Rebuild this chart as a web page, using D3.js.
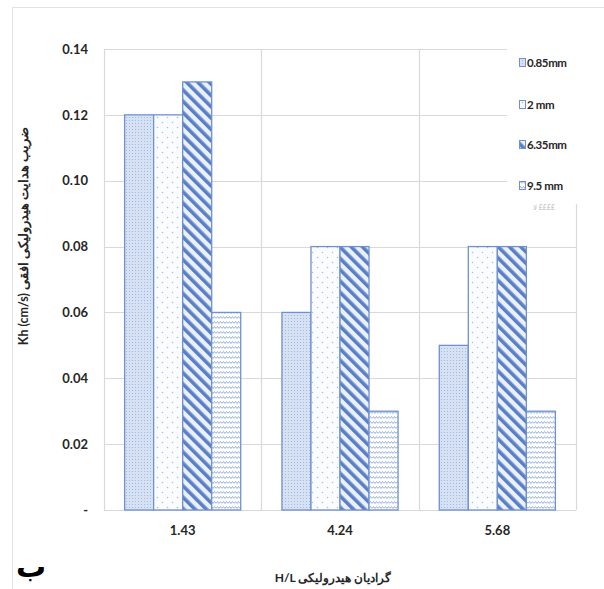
<!DOCTYPE html>
<html><head><meta charset="utf-8">
<script src="https://cdn.jsdelivr.net/npm/d3@7"></script>
<style>
html,body{margin:0;padding:0;background:#fff;}
svg{display:block;font-family:Lato,"Open Sans",sans-serif;}
</style></head>
<body><svg id="c" width="604" height="589"></svg>
<script>
const categories = ["1.43", "4.24", "5.68"];
const seriesNames = ["0.85mm", "2 mm", "6.35mm", "9.5 mm"];
const s085 = [0.12, 0.06, 0.05];
const s2 = [0.12, 0.08, 0.08];
const s635 = [0.13, 0.08, 0.08];
const s95 = [0.06, 0.03, 0.03];
const yTicks = [0, 0.02, 0.04, 0.06, 0.08, 0.10, 0.12, 0.14];
const yTickLabels = ["-", "0.02", "0.04", "0.06", "0.08", "0.10", "0.12", "0.14"];
const yTitle = "Kh (cm/s) ضریب هدایت هیدرولیکی افقی";
const xTitle = "H/L گرادیان هیدرولیکی";

const seriesVals = [s085, s2, s635, s95];
const svg = d3.select("#c");
const X0 = 104, X1 = 576, Y0 = 49, Y1 = 510;

const defs = svg.append("defs");
const p1 = defs.append("pattern").attr("id","p0").attr("patternUnits","userSpaceOnUse").attr("width",3).attr("height",3);
p1.append("rect").attr("width",3).attr("height",3).attr("fill","#d6e2f4");
p1.append("rect").attr("width",1).attr("height",1).attr("fill","#a3b9e0");
const p2 = defs.append("pattern").attr("id","p1").attr("patternUnits","userSpaceOnUse").attr("width",10).attr("height",10);
p2.append("rect").attr("width",10).attr("height",10).attr("fill","#fbfcff");
p2.append("circle").attr("cx",2.5).attr("cy",2.5).attr("r",0.8).attr("fill","#a9bee4");
p2.append("circle").attr("cx",7.5).attr("cy",7.5).attr("r",0.8).attr("fill","#a9bee4");
const p3 = defs.append("pattern").attr("id","p2").attr("patternUnits","userSpaceOnUse").attr("width",8).attr("height",8).attr("patternTransform","rotate(-45)");
p3.append("rect").attr("width",8).attr("height",8).attr("fill","#eaf1fb");
p3.append("rect").attr("width",3.6).attr("height",8).attr("fill","#5a7fc6");
const p4 = defs.append("pattern").attr("id","p3").attr("patternUnits","userSpaceOnUse").attr("width",6).attr("height",5);
p4.append("rect").attr("width",6).attr("height",5).attr("fill","#ffffff");
p4.append("path").attr("d","M0,3.5 L1.5,1.5 L3,3.5 L4.5,1.5 L6,3.5").attr("fill","none").attr("stroke","#98b1de").attr("stroke-width",1);

// outer frame
svg.append("line").attr("x1",12.5).attr("x2",12.5).attr("y1",7).attr("y2",589).attr("stroke","#e2e2e2");
svg.append("line").attr("x1",12).attr("x2",604).attr("y1",7.5).attr("y2",7.5).attr("stroke","#e2e2e2");

const x = d3.scaleBand().domain(categories).range([X0, X1]).padding(0);
const xs = d3.scaleBand().domain(d3.range(4)).range([0, x.bandwidth()]).paddingInner(0).paddingOuter(0.71);
const y = d3.scaleLinear().domain([0, 0.14]).range([Y1, Y0]);

const grid = svg.append("g");
grid.selectAll("line.h").data(yTicks).join("line").attr("class","h")
  .attr("x1",X0).attr("x2",X1).attr("y1",d=>Math.round(y(d))+0.5).attr("y2",d=>Math.round(y(d))+0.5)
  .attr("stroke","#d9d9d9").attr("stroke-width",1.2);
const vb = categories.map(c=>x(c)).concat([X1]);
grid.selectAll("line.v").data(vb).join("line").attr("class","v")
  .attr("x1",d=>Math.round(d)+0.5).attr("x2",d=>Math.round(d)+0.5).attr("y1",Y0).attr("y2",Y1)
  .attr("stroke","#d9d9d9").attr("stroke-width",1.2);

const data = [];
categories.forEach((c,i)=>seriesVals.forEach((s,j)=>data.push({c, j, v:s[i]})));
svg.append("g").selectAll("rect").data(data).join("rect")
  .attr("x",d=>x(d.c)+xs(d.j)).attr("width",xs.bandwidth())
  .attr("y",d=>y(d.v)).attr("height",d=>y(0)-y(d.v))
  .attr("fill",d=>`url(#p${d.j})`).attr("stroke","#6f91cf").attr("stroke-width",1.3);

const ya = svg.append("g").attr("transform",`translate(${X0},0)`)
  .call(d3.axisLeft(y).tickValues(yTicks).tickFormat((d,i)=>yTickLabels[i]).tickSize(0).tickPadding(16));
ya.select(".domain").remove();
ya.selectAll("text").attr("font-family","Lato, sans-serif").attr("font-size",13).attr("font-weight","bold").attr("fill","#262626");

const xa = svg.append("g").attr("transform",`translate(0,${Y1})`)
  .call(d3.axisBottom(x).tickSize(0).tickPadding(16));
xa.select(".domain").remove();
xa.selectAll("text").attr("font-family","Lato, sans-serif").attr("font-size",13).attr("font-weight","bold").attr("fill","#262626");

const lg = svg.append("g");
lg.append("rect").attr("x",507).attr("y",40).attr("width",97).attr("height",164).attr("fill","#fff");
const ly = [63, 105, 145, 186];
seriesNames.forEach((n,i)=>{
  lg.append("rect").attr("x",519.5).attr("y",ly[i]-4.5).attr("width",6).attr("height",8)
    .attr("fill",`url(#p${i})`).attr("stroke","#6f91cf").attr("stroke-width",1);
  lg.append("text").attr("x",527).attr("y",ly[i]).attr("dy","0.35em")
    .attr("font-family","Lato, sans-serif").attr("font-size",11.5).attr("font-weight","bold")
    .attr("letter-spacing",-0.4).attr("fill","#262626").text(n);
});
lg.append("text").attr("x",533).attr("y",210).attr("font-size",7).attr("fill","#bbb").text("ﻻ ££££");

svg.append("text").attr("transform","translate(28,236) rotate(-90)").attr("text-anchor","middle")
  .attr("font-family","Lato, 'Noto Sans', sans-serif").attr("font-size",12.5).attr("font-weight","bold").attr("fill","#262626")
  .text(yTitle);
svg.append("text").attr("x",333).attr("y",582).attr("text-anchor","middle")
  .attr("font-family","Lato, 'Noto Sans', sans-serif").attr("font-size",12).attr("font-weight","bold").attr("fill","#262626")
  .text(xTitle);
svg.append("text").attr("x",16).attr("y",577).attr("font-family","'Noto Sans', 'DejaVu Sans', sans-serif")
  .attr("font-size",30).attr("font-weight","bold").attr("fill","#000").text("ب");
</script></body></html>
